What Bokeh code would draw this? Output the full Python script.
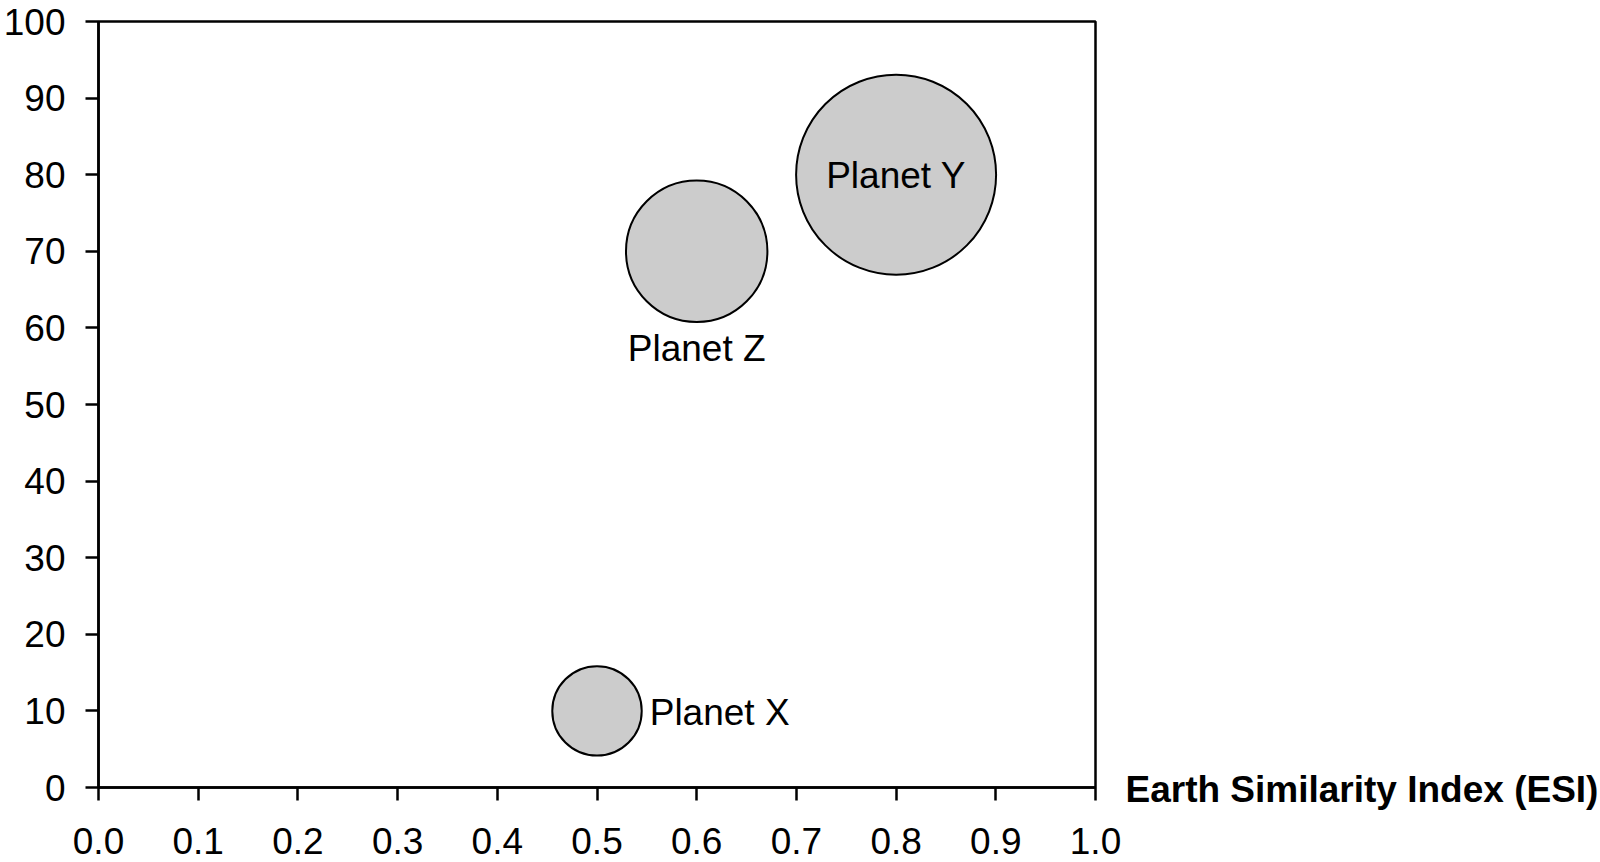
import math
from bokeh.plotting import figure
from bokeh.layouts import row
from bokeh.models import Range1d, FixedTicker, PrintfTickFormatter, Label, ColumnDataSource
from bokeh.core.properties import value
from bokeh.embed import file_html
from bokeh.resources import INLINE

# ---- data ----
planet_names = ["Planet X", "Planet Z", "Planet Y"]
esi_values = [0.5, 0.6, 0.8]
y_values = [10, 70, 80]
bubble_sizes = [20, 50, 100]
x_ticks = [0.0, 0.1, 0.2, 0.3, 0.4, 0.5, 0.6, 0.7, 0.8, 0.9, 1.0]
y_ticks = [0, 10, 20, 30, 40, 50, 60, 70, 80, 90, 100]
x_title = "Earth Similarity Index (ESI)"

# ---- layout / style ----
FONT = "Liberation Sans"
TOTAL_W = 1600
TOTAL_H = 862
BORDER_TOP = 21
BORDER_BOTTOM = 75
BORDER_LEFT = 97
BORDER_RIGHT = 28
FRAME_W = 998
FRAME_H = TOTAL_H - BORDER_TOP - BORDER_BOTTOM
MAIN_W = BORDER_LEFT + FRAME_W + BORDER_RIGHT
SIDE_W = TOTAL_W - MAIN_W
TITLE_GAP = 30  # px between plot frame and axis title
MAX_DIAM = 200  # px diameter of the largest bubble
diams = [MAX_DIAM * math.sqrt(s / max(bubble_sizes)) for s in bubble_sizes]
label_pos = ["right", "below", "center"]

Y0, Y1 = y_ticks[0], y_ticks[-1]
src = ColumnDataSource(dict(x=esi_values, y=y_values, d=diams, name=planet_names))

p = figure(width=MAIN_W, height=TOTAL_H,
           x_range=Range1d(x_ticks[0], x_ticks[-1]), y_range=Range1d(Y0, Y1),
           output_backend="svg", toolbar_location=None,
           min_border_left=BORDER_LEFT, min_border_right=BORDER_RIGHT,
           min_border_top=BORDER_TOP, min_border_bottom=BORDER_BOTTOM)
p.frame_align = False
p.grid.visible = False
p.outline_line_color = "black"
p.outline_line_width = 2.5
p.outline_line_alpha = 1
p.background_fill_color = "white"
p.border_fill_color = "white"

for ax in (p.xaxis[0], p.yaxis[0]):
    ax.axis_line_width = 2.5
    ax.axis_line_color = "black"
    ax.major_tick_line_width = 2.5
    ax.major_tick_line_color = "black"
    ax.major_tick_out = 13
    ax.major_tick_in = 0
    ax.minor_tick_out = 0
    ax.minor_tick_in = 0
    ax.minor_tick_line_color = None
    ax.major_label_text_font = FONT
    ax.major_label_text_font_size = "37px"
    ax.major_label_text_color = "black"

p.xaxis.ticker = FixedTicker(ticks=x_ticks)
p.xaxis.formatter = PrintfTickFormatter(format="%.1f")
p.xaxis.major_label_standoff = 27
p.yaxis.ticker = FixedTicker(ticks=y_ticks)
p.yaxis.major_label_standoff = 20

p.scatter(x="x", y="y", size="d", source=src, marker="circle",
          fill_color="#cccccc", line_color="black", line_width=2)

for xv, yv, nm, d, pos in zip(esi_values, y_values, planet_names, diams, label_pos):
    r = d / 2
    if pos == "right":
        kw = dict(x_offset=r + 8, y_offset=2, text_align="left", text_baseline="middle")
    elif pos == "below":
        kw = dict(x_offset=0, y_offset=r + 26, text_align="center", text_baseline="middle")
    else:
        kw = dict(x_offset=0, y_offset=1, text_align="center", text_baseline="middle")
    p.text(x=[xv], y=[yv], text=[nm], text_font=value(FONT),
           text_font_size=value("37px"), text_color="black", **kw)

# side panel holding the axis title, sharing the main plot's vertical scale
px_per_unit = FRAME_H / (Y1 - Y0)
side = figure(width=SIDE_W, height=TOTAL_H,
              x_range=Range1d(0, SIDE_W),
              y_range=Range1d(Y0 - BORDER_BOTTOM / px_per_unit, Y1 + BORDER_TOP / px_per_unit),
              output_backend="svg", toolbar_location=None,
              x_axis_location=None, y_axis_location=None,
              min_border_left=0, min_border_right=0, min_border_top=0, min_border_bottom=0)
side.frame_align = False
side.grid.visible = False
side.outline_line_color = None
side.background_fill_color = "white"
side.border_fill_color = "white"
side.add_layout(Label(x=0, y=Y0, x_offset=TITLE_GAP - BORDER_RIGHT, y_offset=-2, text=x_title,
                      text_font=FONT, text_font_size="37px", text_font_style="bold",
                      text_color="black", text_align="left", text_baseline="middle"))

layout = row(p, side, spacing=0)
open("out.html", "w").write(file_html(layout, INLINE))
